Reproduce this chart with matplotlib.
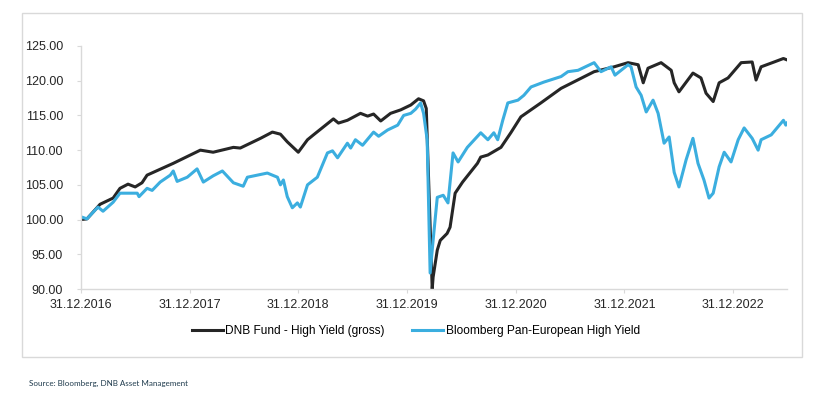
import pandas as pd
import matplotlib.pyplot as plt
from matplotlib.patches import Rectangle

# DNB Fund - High Yield (gross), indexed to 100 at 31.12.2016
fund_dates = ["2016-12-31", "2017-01-20", "2017-03-05", "2017-04-18", "2017-05-11",
              "2017-06-07", "2017-07-01", "2017-07-24", "2017-08-10", "2017-11-06",
              "2018-02-05", "2018-03-20", "2018-05-27", "2018-06-19", "2018-08-26",
              "2018-10-05", "2018-11-01", "2018-11-24", "2018-12-31", "2019-01-31",
              "2019-02-20", "2019-04-28", "2019-05-15", "2019-06-14", "2019-07-28",
              "2019-08-21", "2019-09-10", "2019-10-04", "2019-11-06", "2019-12-10",
              "2020-01-13", "2020-02-08", "2020-02-25", "2020-03-05", "2020-03-25",
              "2020-03-28", "2020-04-11", "2020-04-21", "2020-05-14", "2020-05-24",
              "2020-06-10", "2020-07-05", "2020-08-24", "2020-09-04", "2020-09-28",
              "2020-11-11", "2020-12-14", "2021-01-17", "2021-03-25", "2021-06-01",
              "2021-09-20", "2021-11-26", "2022-01-12", "2022-02-15", "2022-03-04",
              "2022-03-20", "2022-05-03", "2022-06-06", "2022-06-16", "2022-07-02",
              "2022-08-18", "2022-09-14", "2022-10-01", "2022-10-25", "2022-11-14",
              "2022-12-14", "2023-01-27", "2023-03-05", "2023-03-18", "2023-04-04",
              "2023-05-18", "2023-06-18", "2023-06-30"]
fund_values = [100.0, 100.1, 102.2, 103.1, 104.5,
               105.1, 104.7, 105.3, 106.4, 108.1,
               110.0, 109.7, 110.4, 110.3, 111.7,
               112.6, 112.3, 111.2, 109.7, 111.5,
               112.2, 114.5, 113.9, 114.3, 115.3,
               114.9, 115.2, 114.2, 115.3, 115.8,
               116.5, 117.4, 117.1, 116.0, 90.0,
               91.7, 95.6, 97.0, 98.0, 98.9,
               103.8, 105.4, 108.1, 109.0, 109.3,
               110.4, 112.5, 114.8, 116.8, 118.9,
               121.3, 122.0, 122.6, 122.3, 119.7,
               121.8, 122.6, 121.5, 119.7, 118.4,
               121.1, 120.4, 118.2, 117.0, 119.7,
               120.4, 122.6, 122.7, 120.1, 122.0,
               122.7, 123.2, 123.0]

# Bloomberg Pan-European High Yield
bench_dates = ["2016-12-31", "2017-01-20", "2017-02-26", "2017-03-15", "2017-04-18",
               "2017-05-11", "2017-07-08", "2017-07-14", "2017-08-10", "2017-08-27",
               "2017-09-23", "2017-10-27", "2017-11-06", "2017-11-19", "2017-12-23",
               "2018-01-25", "2018-02-15", "2018-03-20", "2018-04-20", "2018-05-27",
               "2018-06-29", "2018-07-13", "2018-09-18", "2018-10-22", "2018-11-01",
               "2018-11-11", "2018-11-24", "2018-12-11", "2018-12-28", "2019-01-07",
               "2019-01-31", "2019-03-05", "2019-04-08", "2019-04-25", "2019-05-12",
               "2019-06-14", "2019-06-25", "2019-07-11", "2019-08-04", "2019-09-10",
               "2019-09-27", "2019-10-27", "2019-11-30", "2019-12-20", "2020-01-13",
               "2020-01-29", "2020-02-15", "2020-02-25", "2020-03-08", "2020-03-18",
               "2020-03-28", "2020-04-11", "2020-05-01", "2020-05-17", "2020-06-03",
               "2020-06-20", "2020-07-21", "2020-09-04", "2020-09-28", "2020-10-18",
               "2020-10-31", "2020-11-17", "2020-12-04", "2021-01-07", "2021-01-27",
               "2021-02-20", "2021-04-04", "2021-06-01", "2021-06-24", "2021-07-28",
               "2021-09-20", "2021-10-13", "2021-11-16", "2021-11-29", "2022-01-12",
               "2022-01-22", "2022-02-08", "2022-02-25", "2022-03-14", "2022-04-06",
               "2022-04-23", "2022-05-13", "2022-05-30", "2022-06-16", "2022-07-02",
               "2022-07-26", "2022-08-18", "2022-09-04", "2022-09-24", "2022-10-11",
               "2022-10-25", "2022-11-14", "2022-12-01", "2022-12-24", "2023-01-17",
               "2023-02-06", "2023-03-05", "2023-03-25", "2023-04-04", "2023-05-08",
               "2023-06-18", "2023-06-26", "2023-06-30"]
bench_values = [100.4, 100.1, 101.8, 101.2, 102.5,
                103.8, 103.8, 103.3, 104.5, 104.2,
                105.4, 106.4, 107.0, 105.5, 106.1,
                107.3, 105.4, 106.3, 107.0, 105.3,
                104.8, 106.1, 106.7, 106.1, 105.0,
                105.7, 103.3, 101.7, 102.4, 101.8,
                105.0, 106.1, 109.6, 109.9, 108.9,
                111.0, 110.3, 111.5, 110.7, 112.6,
                112.0, 112.9, 113.6, 115.0, 115.3,
                115.9, 116.8, 115.3, 111.5, 92.3,
                97.0, 103.2, 103.5, 102.4, 109.6,
                108.3, 110.4, 112.5, 111.5, 112.5,
                111.5, 114.3, 116.8, 117.2, 117.9,
                119.1, 119.8, 120.6, 121.3, 121.5,
                122.6, 121.3, 122.0, 120.8, 122.3,
                122.0, 119.1, 117.9, 115.5, 117.2,
                115.3, 111.0, 111.9, 106.8, 104.7,
                108.6, 111.7, 108.1, 105.7, 103.1,
                103.8, 107.6, 109.7, 108.3, 111.5,
                113.2, 111.7, 110.0, 111.5, 112.2,
                114.3, 113.6, 113.9]

tick_dates = ["2016-12-31", "2017-12-31", "2018-12-31", "2019-12-31",
              "2020-12-31", "2021-12-31", "2022-12-31"]
y_ticks = [90, 95, 100, 105, 110, 115, 120, 125]

fund_x = pd.to_datetime(fund_dates)
bench_x = pd.to_datetime(bench_dates)
ticks_x = pd.to_datetime(tick_dates)

plt.rcParams['font.family'] = ['Liberation Sans', 'DejaVu Sans']

fig = plt.figure(figsize=(8.19, 3.97), dpi=100)
ax = fig.add_axes([81 / 819, 1 - 289 / 397, (787 - 81) / 819, (289 - 46) / 397])

# cadre gris autour du graphique
fig.patches.append(Rectangle((22 / 819, 1 - 357 / 397), 780 / 819, 344 / 397,
                             transform=fig.transFigure, fill=False,
                             edgecolor='#d9d9d9', linewidth=1.0))

ax.plot(fund_x, fund_values, color='#262626', linewidth=2.2,
        label='DNB Fund - High Yield (gross)', solid_joinstyle='round')
ax.plot(bench_x, bench_values, color='#3BAEDF', linewidth=2.2,
        label='Bloomberg Pan-European High Yield', solid_joinstyle='round')

ax.set_xlim(pd.Timestamp("2016-12-31"), pd.Timestamp("2023-06-30"))
ax.set_ylim(90, 125)
ax.set_yticks(y_ticks)
ax.set_yticklabels([f'{v:.2f}' for v in y_ticks])
ax.set_xticks(ticks_x)
ax.set_xticklabels([d.strftime('%d.%m.%Y') for d in ticks_x])

for s in ['top', 'right']:
    ax.spines[s].set_visible(False)
for s in ['left', 'bottom']:
    ax.spines[s].set_color('#d9d9d9')
    ax.spines[s].set_linewidth(1.0)
ax.tick_params(axis='both', colors='#d9d9d9', labelcolor='#262626',
               labelsize=9, length=3)
ax.tick_params(axis='y', pad=10)
ax.tick_params(axis='x', pad=4)

ax.legend(loc='center', bbox_to_anchor=(416 / 819, 1 - 331 / 397),
          bbox_transform=fig.transFigure, ncol=2, frameon=False,
          fontsize=8.6, handlelength=2.6, handletextpad=0.2, columnspacing=2.3)

fig.text(29 / 819, 1 - 383 / 397, 'Source: Bloomberg, DNB Asset Management',
         fontsize=5.8, color='#1f3b4d', family=['Lato', 'DejaVu Sans'],
         va='center', ha='left')

fig.savefig('out.png', dpi=100)
